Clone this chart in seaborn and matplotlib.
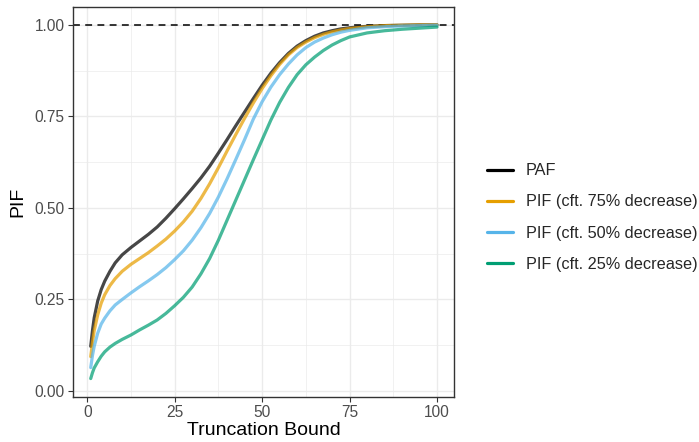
import matplotlib
matplotlib.use("Agg")
import matplotlib.pyplot as plt
import pandas as pd
import seaborn as sns
from matplotlib.lines import Line2D
from matplotlib.ticker import MultipleLocator

bound = [1, 1.5, 2, 3, 4, 5, 6.5, 8, 10, 12.5, 15, 17.5, 20, 22.5, 25, 27.5, 30,
         32.5, 35, 37.5, 40, 42.5, 45, 47.5, 50, 52.5, 55, 57.5, 60, 62.5, 65,
         67.5, 70, 72.5, 75, 80, 85, 90, 95, 100]

paf = [.122, .165, .200, .246, .277, .300, .327, .350, .372, .392, .410, .428, .448,
       .472, .498, .525, .553, .582, .614, .650, .687, .725, .762, .799, .835, .868,
       .897, .922, .942, .957, .969, .978, .984, .989, .992, .996, .998, .999, 1.0, 1.0]
pif75 = [.094, .132, .165, .208, .240, .263, .288, .307, .327, .346, .362, .378, .396,
         .415, .437, .462, .491, .526, .566, .610, .656, .701, .745, .787, .826, .861,
         .892, .918, .938, .953, .965, .974, .981, .986, .990, .995, .998, .999, 1.0, 1.0]
pif50 = [.064, .097, .122, .158, .183, .199, .219, .235, .250, .268, .285, .301, .318,
         .337, .359, .383, .412, .446, .485, .530, .580, .633, .687, .743, .790, .830,
         .864, .893, .918, .938, .953, .964, .973, .980, .985, .992, .995, .997, .998, .999]
pif25 = [.034, .050, .063, .080, .095, .107, .120, .130, .141, .153, .167, .180, .194,
         .212, .233, .256, .284, .320, .362, .412, .467, .522, .577, .632, .686, .740,
         .788, .829, .864, .891, .912, .930, .945, .957, .967, .978, .984, .988, .991, .994]

labels = ["PAF", "PIF (cft. 75% decrease)", "PIF (cft. 50% decrease)", "PIF (cft. 25% decrease)"]
colors = ["#000000", "#E69F00", "#56B4E9", "#009E73"]

df = pd.concat([
    pd.DataFrame({"bound": bound, "value": v, "series": lab})
    for v, lab in zip([paf, pif75, pif50, pif25], labels)
])

sns.set_theme(style="white")
plt.rcParams["font.family"] = ["Liberation Sans", "DejaVu Sans"]

fig = plt.figure(figsize=(6.99, 4.42), dpi=100)
ax = fig.add_axes([0.105, 0.1025, 0.545, 0.881])

ax.axhline(1.0, color="black", lw=1.1, ls=(0, (4.5, 3.5)), zorder=1)
sns.lineplot(data=df, x="bound", y="value", hue="series", hue_order=labels,
             palette=colors, linewidth=2.3, alpha=0.72, ax=ax, legend=False,
             zorder=2, solid_joinstyle="round")

ax.set_xlim(-3.95, 104.95)
ax.set_ylim(-0.0155, 1.048)
ax.xaxis.set_major_locator(MultipleLocator(25))
ax.xaxis.set_minor_locator(MultipleLocator(12.5))
ax.yaxis.set_major_locator(MultipleLocator(0.25))
ax.yaxis.set_minor_locator(MultipleLocator(0.125))
ax.set_yticks([0, 0.25, 0.5, 0.75, 1.0])
ax.set_yticklabels(["0.00", "0.25", "0.50", "0.75", "1.00"])
ax.grid(True, which="major", color="#EBEBEB", lw=1.0)
ax.grid(True, which="minor", color="#EBEBEB", lw=0.5)
ax.set_axisbelow(True)
for s in ax.spines.values():
    s.set_color("#333333")
    s.set_linewidth(1.0)
ax.tick_params(which="major", length=3.5, width=0.8, color="#333333",
               labelsize=11.2, labelcolor="#4D4D4D", pad=2.8, left=True, bottom=True)
ax.tick_params(which="minor", length=0)
ax.set_xlabel("Truncation Bound", fontsize=14, color="black", labelpad=1)
ax.set_ylabel("PIF", fontsize=14, color="black", labelpad=6)

handles = [Line2D([0], [0], color=c, lw=2.3) for c in colors]
fig.legend(handles, labels, loc="center left", bbox_to_anchor=(0.697, 0.508),
           frameon=False, fontsize=11.7, labelspacing=0.99, handlelength=1.56,
           handletextpad=0.8, borderpad=0, borderaxespad=0)

fig.savefig("out.png", dpi=100)
